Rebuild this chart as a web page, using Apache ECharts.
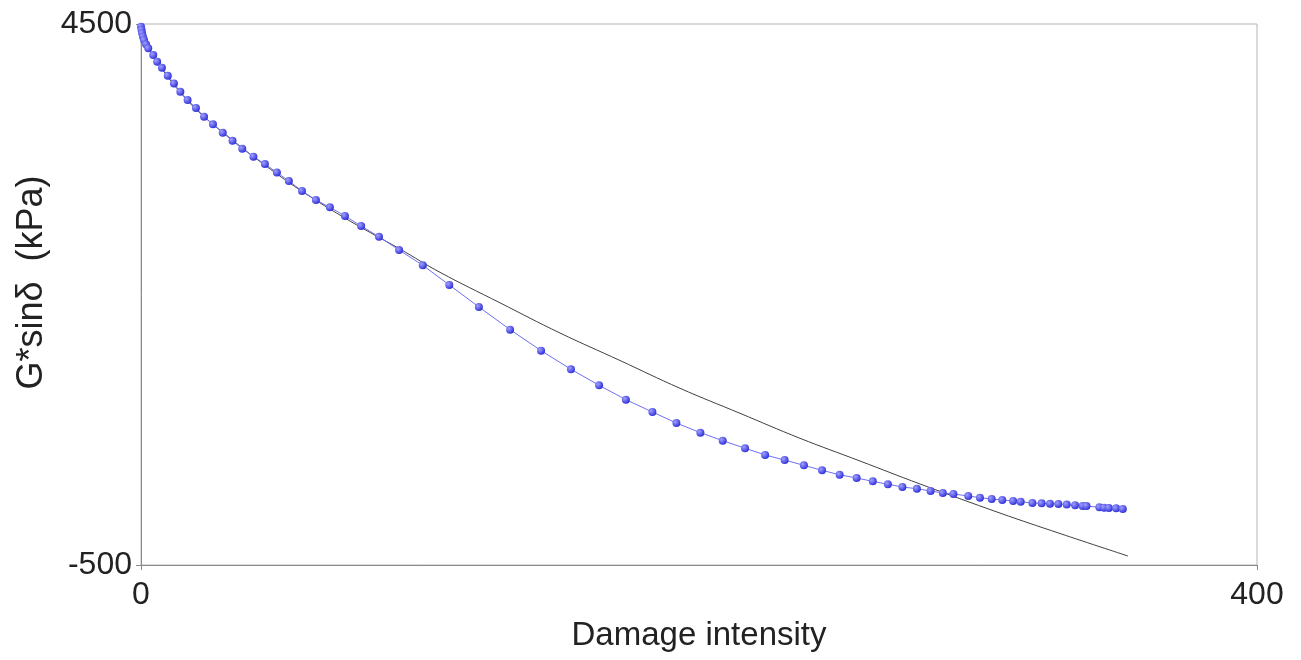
<!DOCTYPE html>
<html>
<head>
<meta charset="utf-8">
<script src="https://cdn.jsdelivr.net/npm/echarts@6/dist/echarts.min.js"></script>
<style>
  html, body { margin: 0; padding: 0; background: #fff; }
  #main { width: 1301px; height: 660px; }
</style>
</head>
<body>
<div id="main"></div>
<script>
var chartDom = document.getElementById('main');
var myChart = echarts.init(chartDom);
var option;

// measured points (damage intensity, G*sin delta)
var measuredX = [0, 0.2, 0.4, 0.7, 1.1, 1.8, 2.6, 4.4, 5.8, 7.5, 9.6, 11.8, 14.1, 16.7, 19.7, 22.6, 25.8, 29.3, 32.8, 36.3,
  40.3, 44.4, 48.7, 53.0, 57.7, 62.7, 67.7, 73.1, 78.9, 85.3, 92.5, 101.0, 110.5, 121.1, 132.3, 143.4, 154.1, 164.2, 173.8,
  183.3, 191.9, 200.5, 208.5, 216.5, 223.7, 230.7, 237.6, 244.1, 250.4, 256.5, 262.3, 267.7, 272.9, 278.1, 283.0, 287.4,
  291.2, 296.5, 300.7, 304.9, 308.7, 312.6, 315.3, 319.5, 322.8, 325.8, 328.8, 331.8, 334.8, 337.5, 338.9, 343.5, 345.2,
  346.9, 349.5, 351.9];
var measuredY = [4475, 4445, 4414, 4383, 4352, 4312, 4275, 4213, 4152, 4096, 4022, 3951, 3874, 3798, 3724, 3643, 3573, 3495, 3421, 3347,
  3274, 3206, 3128, 3049, 2957, 2873, 2806, 2726, 2633, 2534, 2411, 2270, 2088, 1885, 1675, 1481, 1309, 1161, 1028,
  914, 812, 723, 649, 579, 517, 470, 421, 375, 334, 304, 273, 246, 221, 205, 184, 166,
  156, 138, 122, 110, 101, 92, 85, 73, 70, 67, 64, 58, 52, 45, 45, 33, 30,
  27, 24, 18];

// fitted curve
var fitX = [0, 1.43, 4.3, 8.6, 13.98, 21.15, 31.9, 42.65, 56.99, 74.91, 92.83, 107.17, 128.67, 150.18, 171.68, 193.19,
  214.7, 236.2, 257.71, 279.21, 307.89, 329.39, 353.76];
var fitY = [4500, 4352, 4204, 4047, 3871, 3677, 3446, 3229, 2966, 2679, 2420, 2205, 1923, 1644, 1390, 1133,
  902, 671, 461, 249, -20, -209, -417];

var xTicks = [0, 400];
var yTicks = [-500, 4500];

function pairs(xs, ys) {
  return xs.map(function (x, i) { return [x, ys[i]]; });
}

var labelFont = 'Liberation Sans, Arial, sans-serif';

option = {
  backgroundColor: '#fff',
  animation: false,
  grid: {
    left: 141, right: 44, top: 24, bottom: 95,
    show: true,
    borderColor: '#b4b4b4',
    borderWidth: 1
  },
  xAxis: {
    type: 'value',
    min: 0,
    max: 400,
    interval: 400,
    name: 'Damage intensity',
    nameLocation: 'middle',
    nameGap: 54,
    nameTextStyle: { fontFamily: labelFont, fontSize: 33, color: '#222' },
    splitLine: { show: false },
    axisLine: { onZero: false, lineStyle: { color: '#8a8a8a' } },
    axisTick: { show: true, length: 5, lineStyle: { color: '#8a8a8a' }, customValues: xTicks },
    axisLabel: { fontFamily: labelFont, fontSize: 32, color: '#222', margin: 14, customValues: xTicks }
  },
  yAxis: {
    type: 'value',
    min: -500,
    max: 4500,
    name: 'G*sinδ  (kPa)',
    nameLocation: 'middle',
    nameGap: 72,
    nameTextStyle: { fontFamily: labelFont, fontSize: 36, color: '#222', padding: [0, 0, 0, 24] },
    splitLine: { show: false },
    axisLine: { show: true, onZero: false, lineStyle: { color: '#8a8a8a' } },
    axisTick: { show: true, length: 5, lineStyle: { color: '#8a8a8a' }, customValues: yTicks },
    axisLabel: {
      fontFamily: labelFont, fontSize: 32, color: '#222', margin: 9, customValues: yTicks,
      formatter: function (v) { return String(v); }
    }
  },
  series: [
    {
      name: 'Fit',
      type: 'line',
      data: pairs(fitX, fitY),
      smooth: 0.4,
      showSymbol: false,
      lineStyle: { color: '#404040', width: 1 },
      z: 1
    },
    {
      name: 'Measured',
      type: 'line',
      data: pairs(measuredX, measuredY),
      symbol: 'circle',
      symbolSize: 8,
      lineStyle: { color: '#6f6ff5', width: 1 },
      itemStyle: {
        color: new echarts.graphic.RadialGradient(0.35, 0.35, 0.7, [
          { offset: 0, color: '#a0a0ff' },
          { offset: 1, color: '#2c2cd8' }
        ]),
        borderWidth: 0
      },
      z: 2
    }
  ]
};

option && myChart.setOption(option);
</script>
</body>
</html>
